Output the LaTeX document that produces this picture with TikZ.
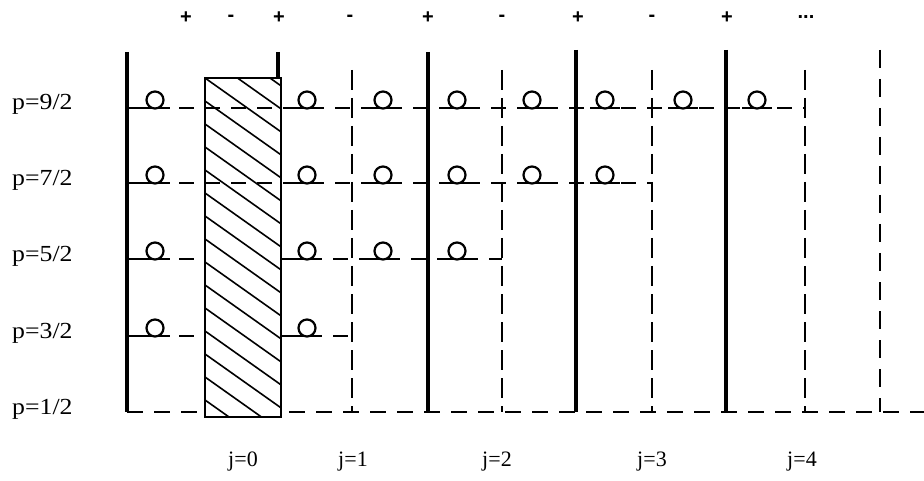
\documentclass[tikz,border=0pt]{standalone}
\usepackage{fontspec}
\setmainfont{Liberation Serif}
\setsansfont{Liberation Sans}
\begin{document}
\begin{tikzpicture}[x=1pt,y=-1pt,
  lab/.style={font=\fontsize{22}{25}\selectfont, inner sep=0pt},
  plab/.style={font=\fontsize{23}{26}\selectfont, inner sep=0pt, xscale=1.12, anchor=west},
  sgn/.style={font=\fontsize{20}{22}\selectfont\sffamily\bfseries, inner sep=0pt},
  solidv/.style={line width=3.2pt},
  thindash/.style={line width=1.6pt, dash pattern=on 20pt off 8pt},
  longdash/.style={line width=2.6pt, dash pattern=on 18pt off 11pt},
  rowdash/.style={line width=2.4pt, dash pattern=on 15pt off 11pt},
  basedash/.style={line width=2.6pt, dash pattern=on 16pt off 11pt},
  loopc/.style={circle, draw, line width=2.2pt, minimum size=17pt, inner sep=0pt, fill=white},
  foot/.style={line width=2.4pt},
  hatch/.style={line width=1.6pt}]
\useasboundingbox (0,0) rectangle (924,481);

% top sign labels
\node[sgn] (s1) at (186,18) {+};
\node[sgn] (s2) at (231,18) {-};
\node[sgn] (s3) at (279,18) {+};
\node[sgn] (s4) at (350,18) {-};
\node[sgn] (s5) at (428,18) {+};
\node[sgn] (s6) at (502,18) {-};
\node[sgn] (s7) at (578,18) {+};
\node[sgn] (s8) at (652,18) {-};
\node[sgn] (s9) at (727,18) {+};
\node[sgn] (s10) at (806,17) {...};

% p labels
\node[plab] (p9) at (12,104) {p=9/2};
\node[plab] (p7) at (12,180) {p=7/2};
\node[plab] (p5) at (12,256) {p=5/2};
\node[plab] (p3) at (12,333) {p=3/2};
\node[plab] (p1) at (12,409) {p=1/2};

% j labels
\node[lab] (j0) at (243,462) {j=0};
\node[lab] (j1) at (353,462) {j=1};
\node[lab] (j2) at (497,462) {j=2};
\node[lab] (j3) at (652,462) {j=3};
\node[lab] (j4) at (802,462) {j=4};

% row lines (dashed)
\draw[rowdash] (127,108) -- (805,108);
\draw[rowdash] (127,183) -- (652,183);
\draw[rowdash] (127,259) -- (205,259);
\draw[rowdash] (281,259) -- (502,259);
\draw[rowdash] (127,336) -- (205,336);
\draw[rowdash] (281,336) -- (352,336);
% bottom row
\draw[basedash] (127,412) -- (924,412);

% hatched slab
\begin{scope}
  \clip (205,78) rectangle (281,417);
  \fill[white] (205,78) rectangle (281,417);
  \draw[rowdash] (205,108) -- (281,108);
  \draw[rowdash] (205,183) -- (281,183);
  \foreach \k in {-5,...,16} {
    \draw[hatch] (205,78+23*\k) -- ++(120,85);
  }
\end{scope}
\draw[line width=2.6pt] (205,78) rectangle (281,417);

% solid verticals
\draw[solidv] (127,52) -- (127,412);
\draw[solidv] (278,52) -- (278,78);
\draw[solidv] (428,52) -- (428,412);
\draw[solidv] (576,50) -- (576,412);
\draw[solidv] (726,50) -- (726,412);

% thin dashed verticals
\draw[thindash] (352,70) -- (352,412);
\draw[thindash] (502,70) -- (502,412);
\draw[thindash] (652,70) -- (652,412);
\draw[thindash] (805,70) -- (805,412);
% long dashed vertical
\draw[longdash] (880,50) -- (880,412);

% loops
\foreach \y/\xs in {108/{155,307,383,457,532,605,683,757},
                    183/{155,307,383,457,532,605},
                    259/{155,307,383,457},
                    336/{155,307}} {
  \foreach \x in \xs {
    \draw[foot] (\x-15,\y) -- (\x+15,\y);
    \node[loopc] at (\x,\y-8) {};
  }
}
\end{tikzpicture}
\end{document}
